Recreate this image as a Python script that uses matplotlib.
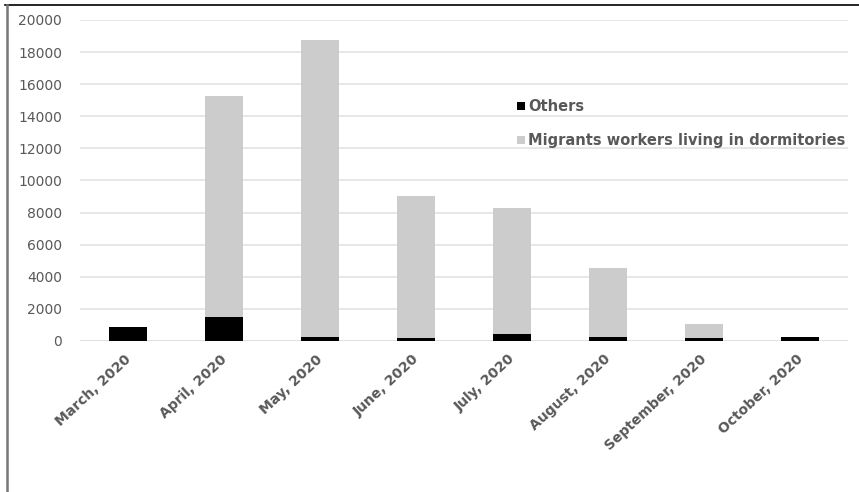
import matplotlib
matplotlib.use("Agg")
import matplotlib.pyplot as plt
import matplotlib.transforms as mtransforms
import numpy as np
from matplotlib.lines import Line2D

categories = ["March, 2020", "April, 2020", "May, 2020", "June, 2020",
              "July, 2020", "August, 2020", "September, 2020", "October, 2020"]
others = [850, 1480, 270, 200, 420, 270, 200, 230]
migrants = [0, 13770, 18480, 8850, 7870, 4300, 840, 0]
series_names = ["Others", "Migrants workers living in dormitories"]
yticks = [0, 2000, 4000, 6000, 8000, 10000, 12000, 14000, 16000, 18000, 20000]

W, H = 859, 492
fig = plt.figure(figsize=(W / 100, H / 100), dpi=100)
ax = fig.add_axes([80 / W, 1 - 341 / H, (848 - 80) / W, (341 - 20) / H])

x = np.arange(len(categories))
ax.bar(x, others, width=0.4, color="#000000", label=series_names[0], zorder=3)
ax.bar(x, migrants, width=0.4, bottom=others, color="#cccccc", label=series_names[1], zorder=3)

ax.set_xlim(-0.5, len(categories) - 0.5)
ax.set_ylim(0, 20000)
ax.set_yticks(yticks)
ax.set_yticklabels([str(v) for v in yticks])
ax.yaxis.grid(True, color="#e3e3e3", linewidth=1.2, zorder=0)
for s in ax.spines.values():
    s.set_visible(False)
ax.tick_params(axis="both", length=0, colors="#595959")
ax.tick_params(axis="y", labelsize=10, pad=13)
ax.set_xticks(x)
ax.set_xticklabels(categories, rotation=43, ha="right", rotation_mode="anchor",
                   fontsize=10, fontweight="bold", color="#595959")
ax.tick_params(axis="x", pad=8)
offset = mtransforms.ScaledTranslation(-4 / 100, 0, fig.dpi_scale_trans)
for lbl in ax.get_xticklabels():
    lbl.set_transform(lbl.get_transform() + offset)
ax.axhline(0, color="#e0e0e0", linewidth=1.2, zorder=2)

leg = ax.legend(loc="upper left", bbox_to_anchor=((504 - 80) / (848 - 80), 1 - (86 - 20) / 321),
                frameon=False, handlelength=0.55, handleheight=0.55, handletextpad=0.2,
                labelspacing=1.3, prop={"size": 10.5, "weight": "bold"})
for t in leg.get_texts():
    t.set_color("#595959")

# outer frame lines (screenshot border)
fig.add_artist(Line2D([5 / W, 1], [1 - 5 / H, 1 - 5 / H], color="black", linewidth=1.2,
                      transform=fig.transFigure))
fig.add_artist(Line2D([7 / W, 7 / W], [0, 1 - 5 / H], color="#777777", linewidth=1.8,
                      transform=fig.transFigure))

fig.savefig("out.png", dpi=100, facecolor="white")
